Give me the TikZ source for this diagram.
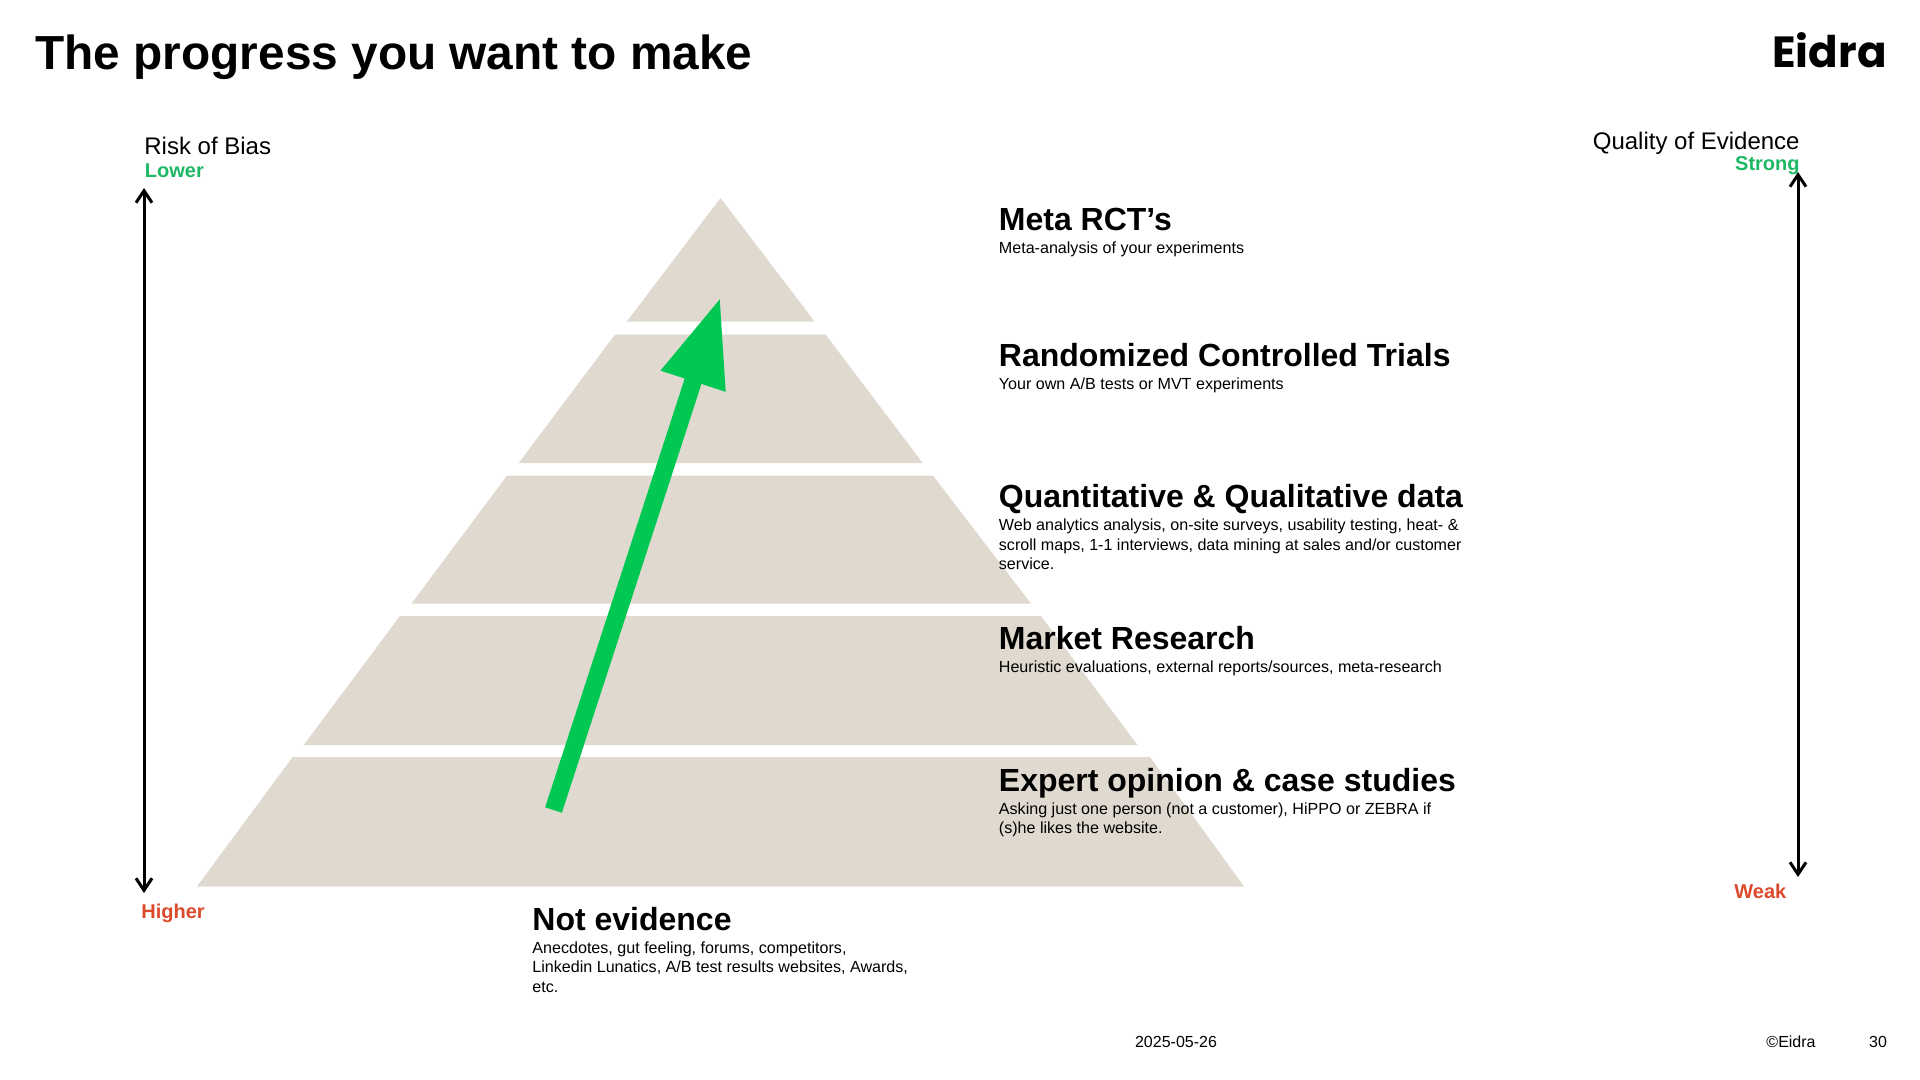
\documentclass[tikz,border=0pt]{standalone}
\usepackage{fontspec}
\setmainfont{Liberation Sans}
\newfontfamily\logofont{Poppins}
\usepackage{tikz}
\usetikzlibrary{arrows.meta,positioning,calc}
\definecolor{Stone}{HTML}{DFD9CF}
\definecolor{Signal}{HTML}{00C853}
\definecolor{Good}{HTML}{1DB863}
\definecolor{Bad}{HTML}{DC4A2C}
\tikzset{
  heading/.style={anchor=north west,inner sep=0pt,text height=11.6pt,text depth=3.4pt,font=\fontsize{16}{18}\selectfont\bfseries},
  detail/.style={anchor=north west,inner sep=0pt,align=left,font=\fontsize{8.05}{9.8}\selectfont},
  axisname/.style={inner sep=0pt,font=\fontsize{12}{14}\selectfont},
  axisend/.style={inner sep=0pt,font=\fontsize{10}{12}\selectfont\bfseries},
  footer/.style={inner sep=0pt,font=\fontsize{8}{10}\selectfont},
  scalearrow/.style={line width=1.5pt,{Straight Barb[length=6pt,width=8pt]}-{Straight Barb[length=6pt,width=8pt]}}
}
\begin{document}
\begin{tikzpicture}[x=0.5pt,y=-0.5pt]
        \useasboundingbox (0,0) rectangle (1920,1080);
        \node[anchor=west,inner sep=0pt,font=\fontsize{23.9}{28}\selectfont\bfseries] (title) at (35,57) {The progress you want to make};
        \node[anchor=base east,inner sep=0pt,font=\fontsize{21.8}{26}\selectfont\logofont\bfseries] (logo) at (1887,68) {Eidra};
        % pyramid
        \fill[Stone] (720.5,198) -- (814.7,321.7) -- (626.7,321.7) -- cycle;
        \foreach \ya/\yb/\xa/\xb/\xc/\xd in {334.7/463/615/825.7/922.7/518.7,475.7/603.7/507/933/1031/411.4,616/745/400/1041/1137.5/303.7,757/886.5/292.7/1150/1244/197}
          \fill[Stone] (\xa,\ya) -- (\xb,\ya) -- (\xc,\yb) -- (\xd,\yb) -- cycle;
        % progress arrow
        \coordinate (from) at (553.5,810);
        \coordinate (to) at (720.5,297);
        \draw[Signal,line width=8.8pt,-{Triangle[length=44.3pt,width=31.5pt]}] (from) -- (to);
        % tier labels
        \node[heading] (metahead) at (998.5,207) {Meta RCT’s};
        \node[detail,below=1.7pt of metahead.south west,anchor=north west] (metatext) {Meta-analysis of your experiments};
        \node[heading] (rcthead) at (998.5,343) {Randomized Controlled Trials};
        \node[detail,below=1.7pt of rcthead.south west,anchor=north west] (rcttext) {Your own A/B tests or MVT experiments};
        \node[heading] (datahead) at (998.5,484) {Quantitative \& Qualitative data};
        \node[detail,below=1.9pt of datahead.south west,anchor=north west] (datatext) {Web analytics analysis, on-site surveys, usability testing, heat- \&\\scroll maps, 1-1 interviews, data mining at sales and/or customer\\service.};
        \node[heading] (markethead) at (998.5,626) {Market Research};
        \node[detail,below=1.9pt of markethead.south west,anchor=north west] (markettext) {Heuristic evaluations, external reports/sources, meta-research};
        \node[heading] (experthead) at (998.5,768) {Expert opinion \& case studies};
        \node[detail,below=1.7pt of experthead.south west,anchor=north west] (experttext) {Asking just one person (not a customer), HiPPO or ZEBRA if\\(s)he likes the website.};
        \node[heading] (nothead) at (532,907) {Not evidence};
        \node[detail,below=1.7pt of nothead.south west,anchor=north west] (nottext) {Anecdotes, gut feeling, forums, competitors,\\Linkedin Lunatics, A/B test results websites, Awards,\\etc.};
        % scales
        \node[axisname,anchor=west] (riskname) at (144,146) {Risk of Bias};
        \node[axisend,anchor=west,color=Good] (lower) at (144.5,171) {Lower};
        \node[axisend,anchor=west,color=Bad] (higher) at (141,913) {Higher};
        \coordinate (risktop) at (144,188);
        \coordinate (riskbot) at (144,893);
        \draw[scalearrow] (risktop) -- (riskbot);
        \node[axisname,anchor=east] (qualname) at (1800,143) {Quality of Evidence};
        \node[axisend,anchor=east,color=Good] (strong) at (1800,166) {Strong};
        \node[axisend,anchor=west,color=Bad] (weak) at (1734,891) {Weak};
        \coordinate (qualtop) at (1798,172);
        \coordinate (qualbot) at (1798,877);
        \draw[scalearrow] (qualtop) -- (qualbot);
        % footer
        \node[footer] (date) at (1176,1042) {2025-05-26};
        \node[footer] (copy) at (1791,1042) {©Eidra};
        \node[footer] (page) at (1878,1042) {30};
      \end{tikzpicture}
\end{document}
